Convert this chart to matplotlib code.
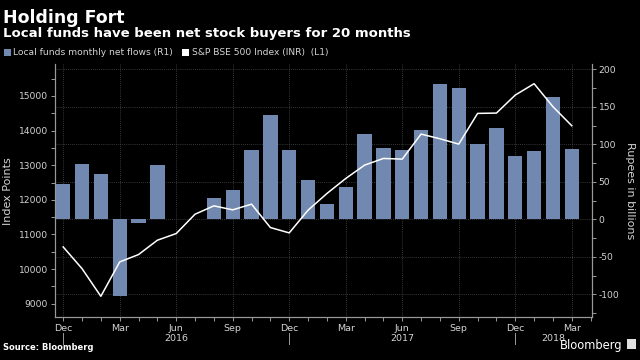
"""
Holding Fort: local funds monthly net flows (bars, right axis) vs S&P BSE 500 index (line, left axis).
"""
import matplotlib
matplotlib.use("Agg")
import matplotlib.pyplot as plt
import matplotlib.ticker as mticker
from matplotlib.patches import Patch, Rectangle
from matplotlib.transforms import blended_transform_factory

# --- data (Dec 2015 .. Mar 2018) ---
MONTHS = ["Dec", "Jan", "Feb", "Mar", "Apr", "May", "Jun", "Jul", "Aug", "Sep", "Oct", "Nov",
          "Dec", "Jan", "Feb", "Mar", "Apr", "May", "Jun", "Jul", "Aug", "Sep", "Oct", "Nov",
          "Dec", "Jan", "Feb", "Mar"]
NET_FLOWS = [46.7, 74.2, 60.0, -101.8, -5.3, 72.0, 0.8, 0.8, 28.4, 39.6, 92.0, 139.0,
             92.9, 52.9, 20.9, 43.1, 113.3, 94.7, 92.0, 119.1, 180.9, 175.6, 100.9, 121.8,
             84.0, 91.1, 163.1, 93.3]
BSE500 = [10639, 10012, 9212, 10205, 10418, 10832, 11025, 11584, 11825, 11710, 11874, 11199,
          11044, 11700, 12182, 12616, 13002, 13195, 13176, 13899, 13764, 13609, 14497, 14506,
          15027, 15355, 14690, 14140]
YEARS = ["2016", "2017", "2018"]
YEAR_STARTS = [0, 12, 24]   # index of the Dec that opens each year block

BG = "black"
BAR_COLOR = "#7189b0"
TEXT = "#d4d4d4"
GRID = "#4a4a4a"
SPINE = "#9a9a9a"

plt.rcParams["font.family"] = ["DejaVu Sans"]
plt.rcParams["axes.unicode_minus"] = False

fig = plt.figure(figsize=(6.4, 3.6), dpi=100, facecolor=BG)
ax = fig.add_axes([0.0859, 0.1186, 0.8386, 0.7036])
ax.set_facecolor(BG)
x = list(range(len(MONTHS)))

# bars on the right scale
ax.bar(x, NET_FLOWS, width=0.76, color=BAR_COLOR, zorder=2)
ax.set_ylim(-130.7, 207)
ax.set_xlim(-0.435, 28.056)

# line on the left scale, drawn above the bars
ax2 = ax.twinx()
ax2.plot(x, BSE500, color="white", linewidth=1.1, zorder=3)
ax2.set_ylim(8605, 15924)
ax2.yaxis.tick_left()
ax2.yaxis.set_label_position("left")
ax2.yaxis.set_major_locator(mticker.MultipleLocator(1000))
ax2.yaxis.set_minor_locator(mticker.MultipleLocator(500))
ax2.set_ylabel("Index Points", fontsize=8, color=TEXT, labelpad=4)

# twinx moves the first axis ticks to the left, so set the right side afterwards
ax.yaxis.tick_right()
ax.yaxis.set_label_position("right")
ax.yaxis.set_major_locator(mticker.MultipleLocator(50))
ax.yaxis.set_minor_locator(mticker.MultipleLocator(25))
ax.set_ylabel("Rupees in billions", rotation=270, fontsize=8, color=TEXT, labelpad=11)

# x ticks: quarterly labels, monthly minor ticks
ax.set_xticks(x[::3])
ax.set_xticklabels(MONTHS[::3])
ax.xaxis.set_minor_locator(mticker.MultipleLocator(1))

for a in (ax, ax2):
    a.tick_params(axis="both", which="both", colors=SPINE, labelcolor=TEXT, labelsize=6.6,
                  length=3, width=0.7, direction="out", pad=2)
    a.spines["top"].set_visible(False)
    for side in ("left", "right", "bottom"):
        a.spines[side].set_color(SPINE)
        a.spines[side].set_linewidth(0.8)
ax.tick_params(axis="x", which="major", labelsize=6.8, pad=2)

ax.grid(True, which="major", color=GRID, linestyle=(0, (1, 1.5)), linewidth=0.6)
ax.set_axisbelow(True)

# year row under the month labels
trans = blended_transform_factory(ax.transData, ax.transAxes)
ends = YEAR_STARTS[1:] + [ax.get_xlim()[1]]
for start, end, yr in zip(YEAR_STARTS, ends, YEARS):
    ax.plot([start, start], [-0.062, -0.105], transform=trans, color=SPINE, linewidth=0.7,
            clip_on=False)
    ax.text((start + end) / 2, -0.083, yr, transform=trans, ha="center", va="center",
            fontsize=6.8, color=TEXT)

# titles and legend
fig.text(0.005, 0.975, "Holding Fort", fontsize=12.5, fontweight="bold", color="white",
         ha="left", va="top")
fig.text(0.005, 0.925, "Local funds have been net stock buyers for 20 months", fontsize=9.5,
         fontweight="bold", color="white", ha="left", va="top")
handles = [Patch(facecolor=BAR_COLOR, edgecolor="none"),
           Patch(facecolor="white", edgecolor="none")]
fig.legend(handles, ["Local funds monthly net flows (R1)", "S&P BSE 500 Index (INR)  (L1)"],
           loc="center left", bbox_to_anchor=(-0.004, 0.853), ncol=2, frameon=False,
           fontsize=6.6, labelcolor=TEXT, handlelength=0.75, handleheight=0.75,
           handletextpad=0.3, columnspacing=1.0, borderpad=0.2)

fig.text(0.005, 0.022, "Source: Bloomberg", fontsize=6, fontweight="bold", color="white",
         ha="left", va="bottom")
fig.text(0.973, 0.022, "Bloomberg", fontsize=8.3, color="white", ha="right", va="bottom")
fig.patches.append(Rectangle((0.979, 0.03), 0.015, 0.028, transform=fig.transFigure,
                             facecolor="#e0e0e0", edgecolor="none"))

fig.savefig("out.png", dpi=100, facecolor=BG)
